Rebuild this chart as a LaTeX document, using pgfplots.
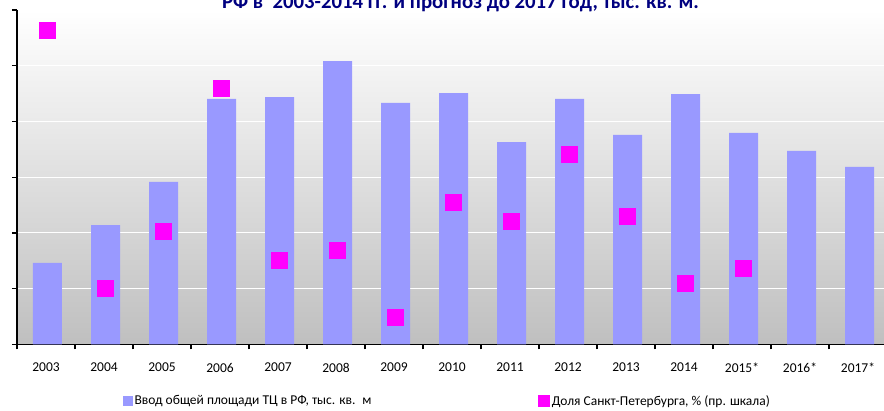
\documentclass[border=0pt]{standalone}
\usepackage{pgfplots}
\pgfplotsset{compat=1.18}
\usepackage{fontspec}
\setmainfont{Carlito}
\definecolor{barblue}{HTML}{9999FF}
\definecolor{pinkm}{HTML}{FF00FF}
\definecolor{navyt}{HTML}{000080}
\begin{document}
\begin{tikzpicture}
\useasboundingbox (0,0) rectangle (884pt,411pt);
\clip (0,0) rectangle (884pt,411pt);
\begin{axis}[
  at={(17pt,66.5pt)}, anchor=south west,
  scale only axis, width=870pt, height=334.5pt,
  xmin=-0.5, xmax=14.5, ymin=0, ymax=600,
  enlargelimits=false,
  ybar, bar width=0.5, bar shift=1.5pt,
  axis background/.style={shade, top color=white, bottom color=black!25},
  axis x line*=bottom, axis y line*=left,
  axis line style={line width=1.5pt, black},
  xtick={0,...,14},
  xticklabels={2003,2004,2005,2006,2007,2008,2009,2010,2011,2012,2013,2014,2015*,2016*,2017*},
  major x tick style={draw=none},
  minor xtick={-0.5,0.5,1.5,2.5,3.5,4.5,5.5,6.5,7.5,8.5,9.5,10.5,11.5,12.5,13.5,14.5},
  minor x tick style={black, line width=1.2pt},
  ytick={0,100,200,300,400,500,600},
  yticklabels={},
  major y tick style={black, line width=1.2pt},
  tick align=outside,
  major tick length=5pt, minor tick length=5pt,
  ymajorgrids, grid style={white, line width=1pt},
  xticklabel style={font=\fontsize{13.5}{15}\selectfont, yshift=-10pt},
  /pgf/number format/assume math mode=true,
]
\addplot[fill=barblue, draw=none] coordinates {
(0,146.2) (1,214.3) (2,291.5) (3,440.4) (4,443.9) (5,508.5) (6,433.2) (7,451.1)
(8,363.2) (9,440.4) (10,375.8) (11,449.3) (12,379.4) (13,347.1) (14,318.4)};
\end{axis}
\begin{axis}[
  at={(17pt,66.5pt)}, anchor=south west,
  scale only axis, width=870pt, height=334.5pt,
  xmin=-0.5, xmax=14.5, ymin=0, ymax=30,
  enlargelimits=false,
  hide axis,
  legend columns=2,
  legend cell align=left,
  legend style={at={(0.1218,-0.169)}, anchor=west, draw=none, fill=none,
    inner sep=0pt,
    font=\fontsize{13.5}{15}\selectfont,
    /tikz/every even column/.append style={column sep=165pt}},
]
\addlegendimage{legend image code/.code={\fill[barblue] (0pt,-4.5pt) rectangle (9pt,4.5pt);}}
\addlegendentry{Ввод общей площади ТЦ в РФ, тыс. кв.\enspace м}
\addplot[only marks, color=pinkm, mark=square*, mark size=8pt, mark options={fill=pinkm, draw=none, xshift=1pt},
  legend image code/.code={\fill[pinkm] (0pt,-5.5pt) rectangle (11pt,5.5pt);}] coordinates {
(0,28.16) (1,5.07) (2,10.18) (3,23.00) (4,7.58) (5,8.45) (6,2.47) (7,12.75)
(8,11.08) (9,17.06) (10,11.55) (11,5.49) (12,6.80)};
\addlegendentry{Доля Санкт-Петербурга, \% (пр. шкала)}
\end{axis}
\node[anchor=base, font=\bfseries\fontsize{20.8}{24}\selectfont, text=navyt] at (460.5pt,402.5pt)
  {РФ в\ \ 2003-2014 гг. и прогноз до 2017 год, тыс. кв. м.};
\end{tikzpicture}
\end{document}
